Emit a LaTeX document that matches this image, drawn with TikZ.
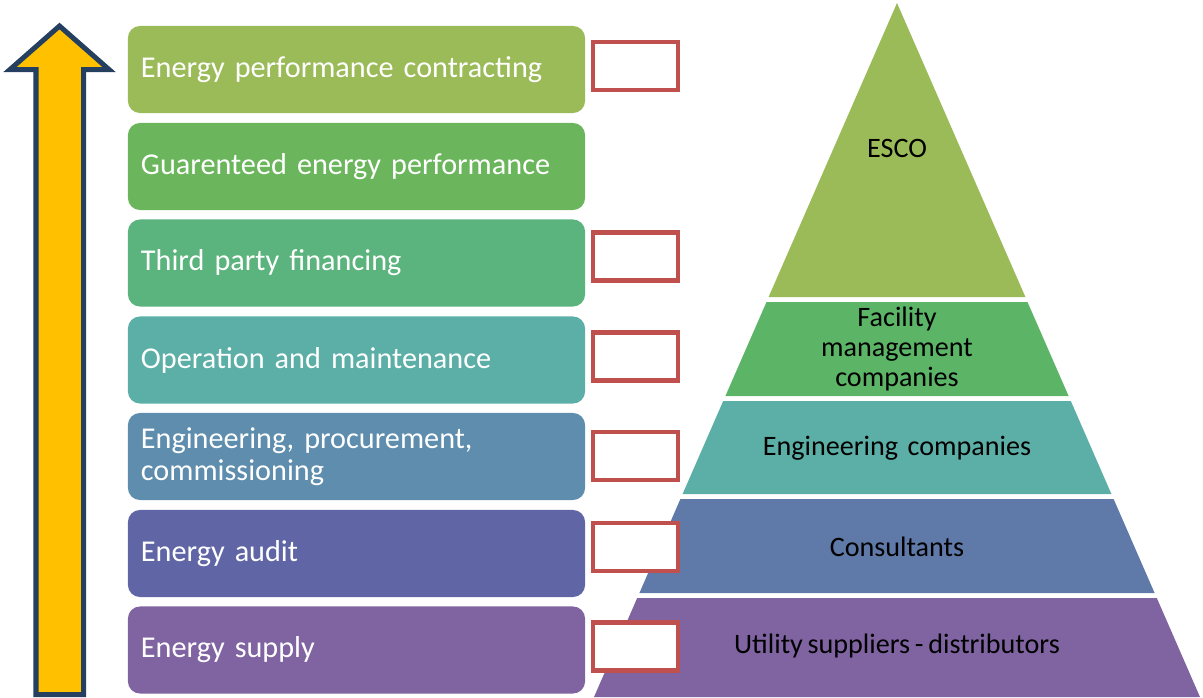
\documentclass[tikz,border=0pt]{standalone}
\usepackage{fontspec}
\setmainfont{Carlito}[WordSpace=0.75]
\usetikzlibrary{calc}

\definecolor{arrowfill}{HTML}{FFC000}
\definecolor{arrowline}{HTML}{243F60}
\definecolor{markred}{HTML}{C0504D}
\definecolor{cContract}{HTML}{9BBB59}
\definecolor{cGuarantee}{HTML}{6BB65C}
\definecolor{cFinance}{HTML}{5BB37D}
\definecolor{cOperation}{HTML}{5BAFA6}
\definecolor{cEngineer}{HTML}{5F8DAD}
\definecolor{cAudit}{HTML}{6066A5}
\definecolor{cSupply}{HTML}{8064A2}
\definecolor{cFacility}{HTML}{5CB467}
\definecolor{cConsult}{HTML}{5F79A8}

\tikzset{
	stage/.style={rounded corners=0.3cm, minimum height=2.175cm, text width=10.775cm, inner xsep=0.325cm, align=left, text=white, font=\fontsize{21.5}{22.5}\selectfont},
	markbox/.style={draw=markred, fill=white, line width=0.11cm, minimum width=2.125cm, minimum height=1.2cm, inner sep=0pt},
	level/.style={text=black, align=center, font=\fontsize{20}{21.3}\selectfont}
}

\begin{document}
\begin{tikzpicture}[x=0.025cm, y=-0.025cm]
		%%%%% START %%%%%
		\useasboundingbox (0, 0) rectangle (1203, 697);
		
		% arrow
		\draw[fill=arrowfill, draw=arrowline, line width=0.125cm, miter limit=10] (59.5, 26) -- (109, 69.5) -- (83.5, 69.5) -- (83.5, 694.5) -- (36, 694.5) -- (36, 69.5) -- (10, 69.5) -- cycle;
		
		% stages
		\node[stage, fill=cContract] (contract) at (356.5, 69.5) {Energy performance contracting};
		\node[stage, fill=cGuarantee] (guarantee) at (356.5, 166.5) {Guarenteed energy performance};
		\node[stage, fill=cFinance] (finance) at (356.5, 263) {Third party financing};
		\node[stage, fill=cOperation] (operation) at (356.5, 360) {Operation and maintenance};
		\node[stage, fill=cEngineer] (engineer) at (356.5, 456.5) {Engineering, procurement,\\commissioning};
		\node[stage, fill=cAudit] (audit) at (356.5, 553.5) {Energy audit};
		\node[stage, fill=cSupply] (supply) at (356.5, 650) {Energy supply};
		
		% pyramid
		\fill[cContract] (897, 3) -- (1025.4, 297) -- (768.6, 297) -- cycle;
		\fill[cFacility] (766.5, 302) -- (1027.5, 302) -- (1068.6, 396) -- (725.4, 396) -- cycle;
		\fill[cOperation] (723.2, 401) -- (1070.8, 401) -- (1111.4, 494) -- (682.6, 494) -- cycle;
		\fill[cConsult] (680.4, 499) -- (1113.6, 499) -- (1154.6, 593) -- (639.4, 593) -- cycle;
		\fill[cSupply] (637.2, 598) -- (1156.8, 598) -- (1200, 697) -- (594, 697) -- cycle;
		
		\node[level] (esco) at (897, 148) {ESCO};
		\node[level] (facility) at (897, 349) {Facility\\management\\companies};
		\node[level] (engcomp) at (897, 448) {Engineering\ \ companies};
		\node[level] (consult) at (897, 547) {Consultants};
		\node[level] (utility) at (897, 646) {Utility suppliers - distributors};
		
		% check boxes
		\node[markbox] (mContract) at (635.5, 66) {};
		\node[markbox] (mFinance) at (635.5, 256.5) {};
		\node[markbox] (mOperation) at (635.5, 356.5) {};
		\node[markbox] (mEngineer) at (635.5, 456) {};
		\node[markbox] (mAudit) at (635.5, 547) {};
		\node[markbox] (mSupply) at (635.5, 646.5) {};
		
		%%%%% END %%%%%
	\end{tikzpicture}
\end{document}
